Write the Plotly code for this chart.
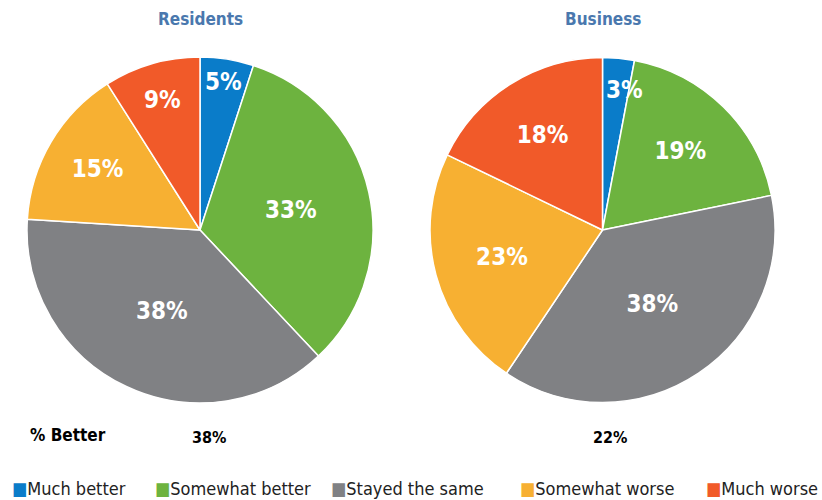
import math
import plotly.graph_objects as go

# Survey responses by group
categories = ["Much better", "Somewhat better", "Stayed the same", "Somewhat worse", "Much worse"]
residents = [5, 33, 38, 15, 9]
business = [3, 19, 38, 23, 18]
groups = ["Residents", "Business"]
pct_better = [38, 22]

colors = ["#0A7CC9", "#6DB33F", "#808184", "#F7B032", "#F15A29"]
FONT = "DejaVu Sans Condensed, DejaVu Sans, sans-serif"
W, H = 822, 500
LABEL_FONT = dict(family=FONT, size=24, color="white", weight="bold")
SMALL_SLICE = 4          # slices below this get their label placed further out
SMALL_RADIUS = 0.81      # radial position (fraction of radius) for those labels

# pie domains in paper coordinates
domains = [
    dict(x=[27 / W, 373 / W], y=[1 - 403 / H, 1 - 57 / H]),
    dict(x=[430 / W, 775 / W], y=[1 - 403 / H, 1 - 57 / H]),
]

fig = go.Figure()
annotations = []
for name, vals, dom in zip(groups, [residents, business], domains):
    texts = [f"{v}%" if v >= SMALL_SLICE else "" for v in vals]
    fig.add_trace(go.Pie(
        labels=categories,
        values=vals,
        text=texts,
        textinfo="text",
        textposition="inside",
        insidetextorientation="horizontal",
        textfont=LABEL_FONT,
        marker=dict(colors=colors, line=dict(color="white", width=1.5)),
        sort=False,
        direction="clockwise",
        rotation=0,
        domain=dom,
        name=name,
        showlegend=False,
        hoverinfo="label+percent",
    ))

    # labels for thin slices, set at the slice's mid-angle and kept clear of the slice's left edge
    total = sum(vals)
    cx = (dom["x"][0] + dom["x"][1]) / 2
    cy = (dom["y"][0] + dom["y"][1]) / 2
    rx = (dom["x"][1] - dom["x"][0]) / 2
    ry = (dom["y"][1] - dom["y"][0]) / 2
    cum = 0
    for v in vals:
        mid = (cum + v / 2) / total * 2 * math.pi
        cum += v
        if v < SMALL_SLICE:
            annotations.append(dict(
                x=cx + SMALL_RADIUS * rx * math.sin(mid) + 9 / W,
                y=cy + SMALL_RADIUS * ry * math.cos(mid),
                xref="paper", yref="paper", text=f"<b>{v}%</b>",
                showarrow=False, font=LABEL_FONT,
                xanchor="center", yanchor="middle"))

# group titles above each pie
for name, dom in zip(groups, domains):
    cx = (dom["x"][0] + dom["x"][1]) / 2
    annotations.append(dict(
        x=cx, y=1 - 19 / H, xref="paper", yref="paper", text=f"<b>{name}</b>",
        showarrow=False, font=dict(family=FONT, size=17, color="#4A78AE"),
        xanchor="center", yanchor="middle"))

# "% Better" row
annotations.append(dict(
    x=28 / W, y=1 - 435 / H, xref="paper", yref="paper", text="<b>% Better</b>",
    showarrow=False, font=dict(family=FONT, size=17, color="black"),
    xanchor="left", yanchor="middle"))
for val, xc in zip(pct_better, [209, 610]):
    annotations.append(dict(
        x=xc / W, y=1 - 437 / H, xref="paper", yref="paper", text=f"<b>{val}%</b>",
        showarrow=False, font=dict(family=FONT, size=16, color="black"),
        xanchor="center", yanchor="middle"))

# legend row
legend_x = [10, 153, 329, 518, 704]
for cat, col, lx in zip(categories, colors, legend_x):
    annotations.append(dict(
        x=lx / W, y=1 - 488 / H, xref="paper", yref="paper",
        text=f"<span style='color:{col}'>■</span>{cat}",
        showarrow=False, font=dict(family=FONT, size=18, color="#222222"),
        xanchor="left", yanchor="middle"))

fig.update_layout(
    width=W, height=H,
    margin=dict(l=0, r=0, t=0, b=0),
    paper_bgcolor="white",
    plot_bgcolor="white",
    uniformtext=dict(minsize=24, mode="show"),
    annotations=annotations,
)

fig.write_html("out.html")
